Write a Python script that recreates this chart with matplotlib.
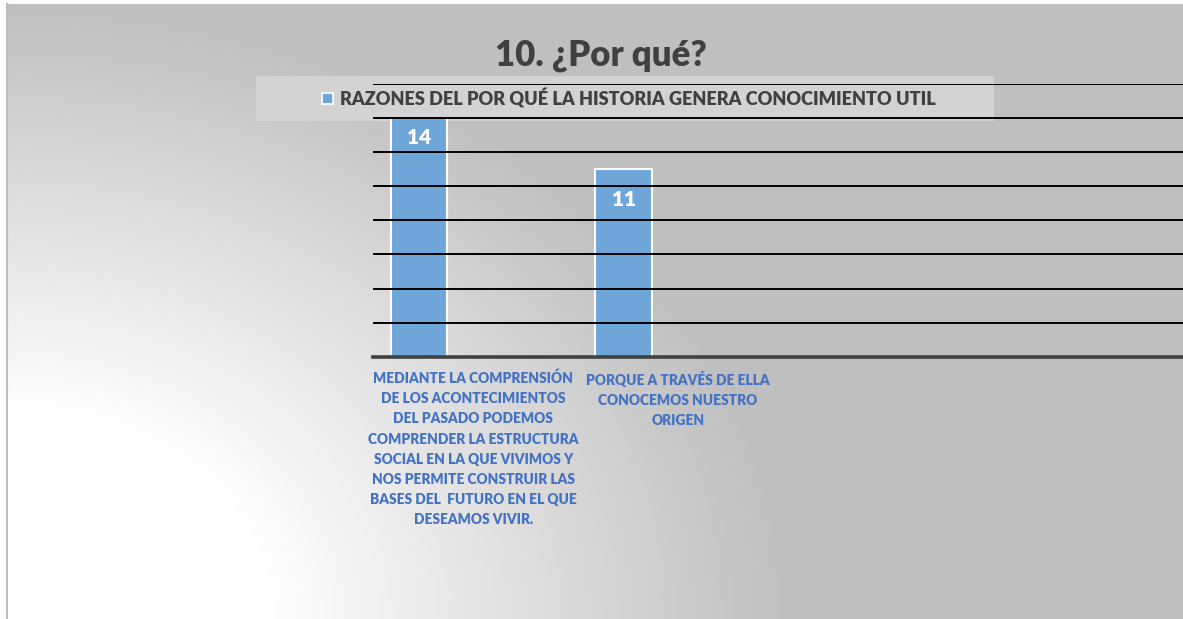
import numpy as np
import matplotlib.pyplot as plt
from matplotlib.patches import Rectangle

# chart data
categories = [
    "MEDIANTE LA COMPRENSIÓN\nDE LOS ACONTECIMIENTOS\nDEL PASADO PODEMOS\nCOMPRENDER LA ESTRUCTURA\n"
    "SOCIAL EN LA QUE VIVIMOS Y\nNOS PERMITE CONSTRUIR LAS\nBASES DEL  FUTURO EN EL QUE\nDESEAMOS VIVIR.",
    "PORQUE A TRAVÉS DE ELLA\nCONOCEMOS NUESTRO\nORIGEN",
]
values = [14, 11]
series_name = "RAZONES DEL POR QUÉ LA HISTORIA GENERA CONOCIMIENTO UTIL"
title = "10. ¿Por qué?"

W, H = 1183, 619
bar_color = '#6FA6DA'
dark = '#404040'
label_blue = '#4472C4'

plt.rcParams['font.family'] = ['Lato', 'DejaVu Sans']

fig = plt.figure(figsize=(W / 100, H / 100), dpi=100)
fig.patch.set_facecolor('white')

# gradient background: white in the lower left, gray towards the upper right
bg = fig.add_axes([7 / W, 0, 1 - 7 / W, (H - 4) / H])
yy, xx = np.mgrid[4:H, 7:W]
d = np.hypot(xx * 0.9, (H - yy) * 1.15)
t = np.clip((d - 240) / 470, 0, 1)
shade = (255 - t * (255 - 191)) / 255
bg.imshow(np.dstack([shade] * 3), aspect='auto', extent=[0, 1, 0, 1], origin='upper')
bg.set_axis_off()
fig.add_artist(plt.Line2D([6.5 / W, 6.5 / W], [0, (H - 4) / H], color='#bdbdbd', lw=1.5))

# legend box (drawn behind the plot axes)
fig.add_artist(Rectangle((256 / W, 1 - 121 / H), (994 - 256) / W, 45 / H,
                         transform=fig.transFigure, facecolor='#d3d3d3', edgecolor='none', zorder=1))

ax = fig.add_axes([373 / W, (H - 357) / H, 1 - 373 / W, (357 - 83.5) / H])
ax.patch.set_alpha(0)
ax.set_zorder(2)
x = np.arange(len(values))
bars = ax.bar(x, values, width=0.274, color=bar_color, edgecolor='white', linewidth=1.5, zorder=1)
ax.set_xlim(-0.225, 3.736)
ax.set_ylim(0, 16)
ax.set_yticks(np.arange(0, 17, 2))
ax.grid(axis='y', color='black', lw=1.4, zorder=3)
ax.set_axisbelow(False)
ax.tick_params(left=False, bottom=False, labelleft=False, labelbottom=False)
for s in ['top', 'right', 'left']:
    ax.spines[s].set_visible(False)
ax.spines['bottom'].set_color(dark)
ax.spines['bottom'].set_linewidth(2.6)
ax.spines['bottom'].set_zorder(4)

# value labels inside the bars
for xi, v, off in zip(x, values, [-14, -22]):
    ax.annotate(str(v), xy=(xi, v), xytext=(0, off), textcoords='offset points',
                ha='center', va='center', color='white', fontsize=15, fontweight='heavy', zorder=5)

# category labels below the axis
for xi, lab in zip(x, categories):
    ax.annotate(lab, xy=(xi + 0.265, 0), xycoords=ax.get_xaxis_transform(),
                xytext=(0, -10), textcoords='offset points', ha='center', va='top',
                color=label_blue, fontsize=9.9, fontweight='heavy', linespacing=1.64)

# legend entry
fig.add_artist(Rectangle((322 / W, 1 - 104 / H), 11 / W, 11 / H, transform=fig.transFigure,
                         facecolor=bar_color, edgecolor='white', lw=1.2, zorder=2))
fig.text(340 / W, 1 - 99 / H, series_name, ha='left', va='center', color=dark,
         fontsize=13.1, fontweight='heavy', zorder=2)

fig.text(601 / W, 1 - 55 / H, title, ha='center', va='center', color=dark,
         fontsize=25, fontweight='heavy')

fig.savefig('out.png', dpi=100)
